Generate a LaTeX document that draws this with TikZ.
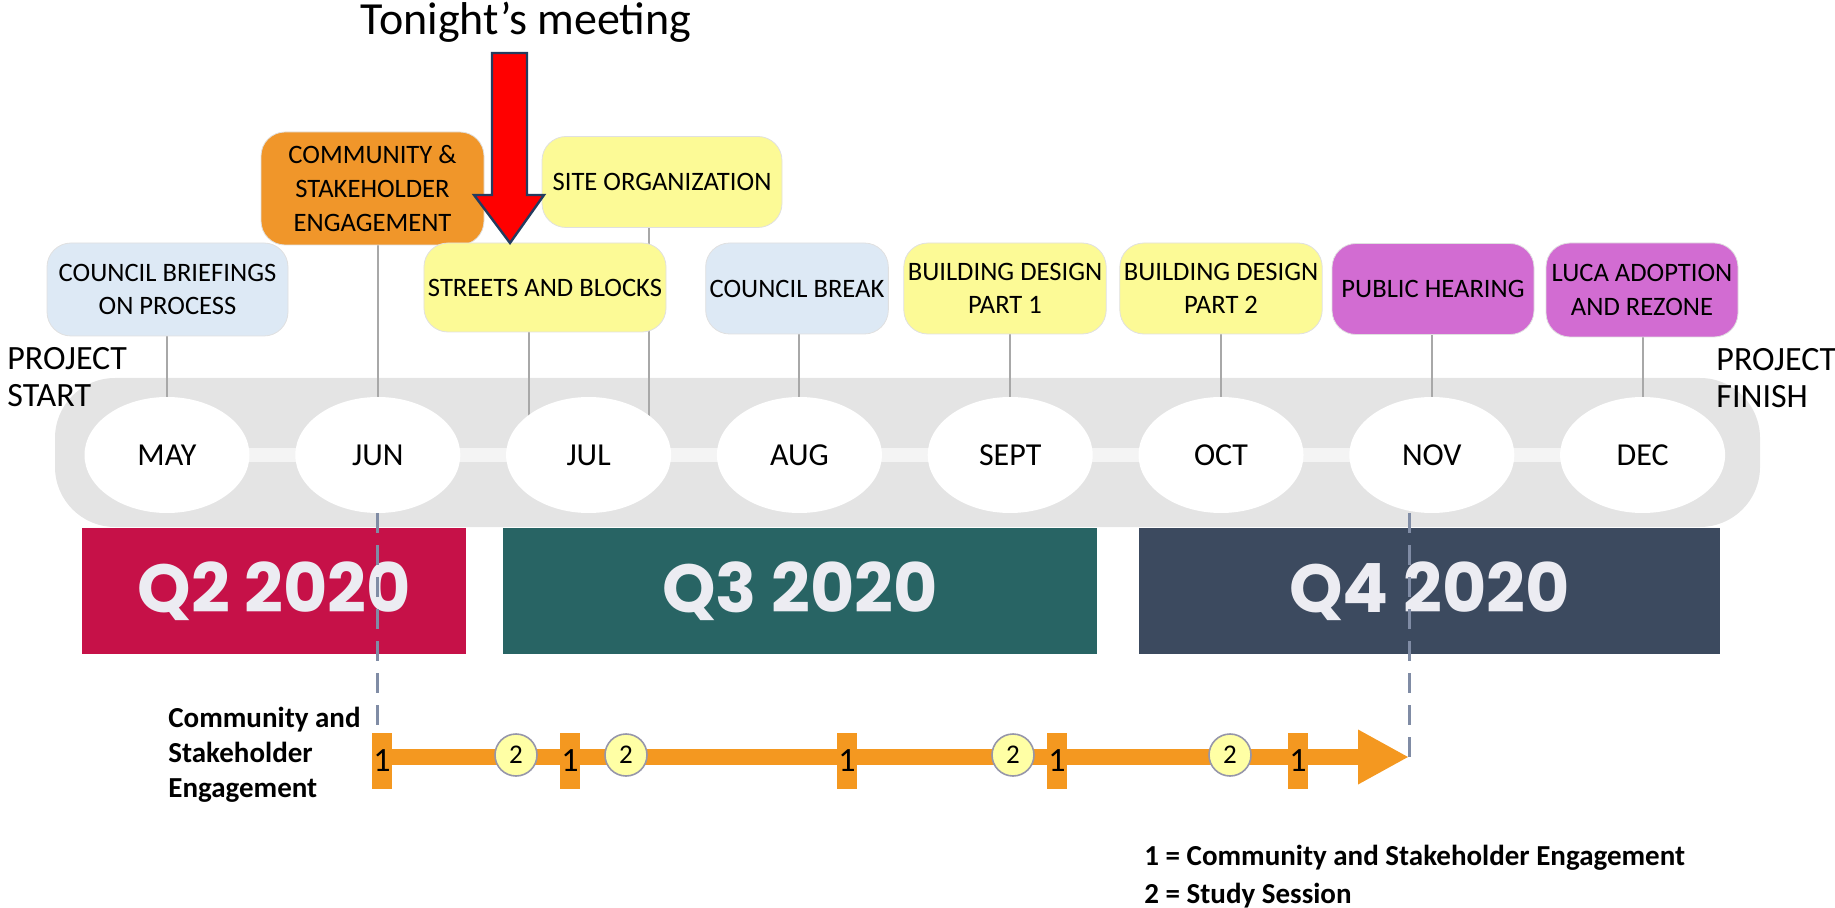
\documentclass[tikz,border=0pt]{standalone}
\usepackage{fontspec}
\setmainfont{Carlito}
\newfontfamily\quarterfont{Poppins}
\usetikzlibrary{shapes.geometric,arrows.meta,positioning,backgrounds}

\definecolor{bandgray}{RGB}{228,228,228}
\definecolor{stemgray}{RGB}{168,168,168}
\definecolor{paleblue}{RGB}{221,233,245}
\definecolor{paleyellow}{RGB}{252,250,150}
\definecolor{engorange}{RGB}{240,150,42}
\definecolor{orchid}{RGB}{210,108,210}
\definecolor{qred}{RGB}{198,17,72}
\definecolor{qteal}{RGB}{40,100,100}
\definecolor{qslate}{RGB}{60,74,95}
\definecolor{qtext}{RGB}{236,236,242}
\definecolor{trackorange}{RGB}{244,152,32}
\definecolor{dashblue}{RGB}{128,140,165}
\definecolor{arrowred}{RGB}{255,0,0}
\definecolor{arrowrim}{RGB}{35,60,95}
\definecolor{sessionyellow}{RGB}{255,255,165}
\definecolor{sessionrim}{RGB}{150,150,170}

\begin{document}
\begin{tikzpicture}[
  x=0.5pt, y=-0.5pt,
  node distance=22.5pt,
  event/.style={rectangle, rounded corners=12pt, draw=black!12,
    font=\fontsize{13.3}{16.8}\selectfont, align=center,
    minimum width=101pt, minimum height=45.5pt, inner sep=2pt},
  month/.style={ellipse, fill=white, minimum width=82.5pt,
    minimum height=58pt, font=\fontsize{16}{19}\selectfont},
  quarter/.style={rectangle, minimum height=63pt, text=qtext,
    font=\quarterfont\bfseries\fontsize{34}{40}\selectfont},
  stem/.style={draw=stemgray, line width=1pt},
  dashline/.style={draw=dashblue, line width=1.5pt,
    dash pattern=on 10pt off 6pt},
  track/.style={draw=trackorange, line width=8pt,
    -{Triangle[length=25.5pt, width=25.5pt]}},
  marker/.style={rectangle, fill=trackorange, minimum width=10pt,
    minimum height=28pt, inner sep=0pt,
    font=\fontsize{17}{20}\selectfont},
  session/.style={circle, fill=sessionyellow, draw=sessionrim,
    line width=0.8pt, minimum size=21pt, inner sep=0pt,
    font=\fontsize{13.5}{16}\selectfont},
  note/.style={font=\bfseries\fontsize{14.5}{17.5}\selectfont,
    align=left, inner sep=0pt},
  side/.style={font=\fontsize{17}{18.5}\selectfont, align=left,
    inner sep=0pt},
  pointer/.style={fill=arrowred, draw=arrowrim, line width=1.2pt}
]
  \useasboundingbox (0,0) rectangle (1835,908);

  % events above the timeline
  \node[event, fill=paleblue, minimum width=120.5pt, minimum height=46.5pt]
    (brief) at (167.5,289.5) {COUNCIL BRIEFINGS\\ON PROCESS};
  \node[event, fill=engorange, minimum width=111.5pt, minimum height=56.5pt]
    (engage) at (372.5,188.5) {COMMUNITY \&\\STAKEHOLDER\\ENGAGEMENT};
  \node[event, fill=paleyellow, minimum width=120pt, minimum height=44.5pt]
    (streets) at (545,287.5) {STREETS AND BLOCKS};
  \node[event, fill=paleyellow, minimum width=120pt]
    (siteorg) at (662,182) {SITE ORGANIZATION};
  \node[event, fill=paleblue, minimum width=89pt]
    (cbreak) at (797,288.5) {COUNCIL BREAK};
  \node[event, fill=paleyellow] (design1) at (1005,288.5)
    {BUILDING DESIGN\\PART 1};
  \node[event, fill=paleyellow] (design2) at (1221,288.5)
    {BUILDING DESIGN\\PART 2};
  \node[event, fill=orchid] (hearing) at (1433,289) {PUBLIC HEARING};
  \node[event, fill=orchid, minimum width=96pt, minimum height=47pt]
    (adopt) at (1642,290) {LUCA ADOPTION\\AND REZONE};

  % months
  \node[month] (may) at (167,455) {MAY};
  \node[month, right=of may] (jun) {JUN};
  \node[month, right=of jun] (jul) {JUL};
  \node[month, right=of jul] (aug) {AUG};
  \node[month, right=of aug] (sept) {SEPT};
  \node[month, right=of sept] (oct) {OCT};
  \node[month, right=of oct] (nov) {NOV};
  \node[month, right=of nov] (dec) {DEC};
  \coordinate (jula) at ([xshift=-30pt]jul.center);
  \coordinate (julb) at ([xshift=30pt]jul.center);

  \begin{scope}[on background layer]
    \fill[bandgray, rounded corners=30pt] (55,378) rectangle (1760,527);
    \draw[white, opacity=0.6, line width=7pt] (may.center) -- (dec.center);
    \draw[stem] (may.center) -- (may.center |- brief.south);
    \draw[stem] (jun.center) -- (jun.center |- engage.south);
    \draw[stem] (jula) -- (jula |- streets.south);
    \draw[stem] (julb) -- (julb |- siteorg.south);
    \draw[stem] (aug.center) -- (aug.center |- cbreak.south);
    \draw[stem] (sept.center) -- (sept.center |- design1.south);
    \draw[stem] (oct.center) -- (oct.center |- design2.south);
    \draw[stem] (nov.center) -- (nov.center |- hearing.south);
    \draw[stem] (dec.center) -- (dec.center |- adopt.south);
  \end{scope}

  \node[side, anchor=west] (pstart) at (7,377) {PROJECT\\START};
  \node[side, anchor=west] (pfinish) at (1716,378) {PROJECT\\FINISH};

  % quarters
  \node[quarter, fill=qred, minimum width=192pt] (q2) at (274,591)
    {Q2 2020};
  \node[quarter, fill=qteal, minimum width=297pt] (q3) at (800,591)
    {Q3 2020};
  \node[quarter, fill=qslate, minimum width=290.5pt] (q4) at (1429.5,591)
    {Q4 2020};

  % engagement track
  \coordinate (trackstart) at (381,757);
  \coordinate (trackend) at (1409,757);
  \draw[track] (trackstart) -- (trackend);
  \node[marker] (m1) at (382,761) {1};
  \node[marker] (m2) at (570,761) {1};
  \node[marker] (m3) at (847,761) {1};
  \node[marker] (m4) at (1057,761) {1};
  \node[marker] (m5) at (1298,761) {1};
  \node[session] (s1) at (516,755) {2};
  \node[session] (s2) at (626,755) {2};
  \node[session] (s3) at (1013,755) {2};
  \node[session] (s4) at (1230,755) {2};

  \draw[dashline] (jun.south) -- (jun.south |- m1.north);
  \draw[dashline] (nov.south -| trackend) -- (trackend);

  \node[note, anchor=west] (csetitle) at (168,755)
    {Community and\\Stakeholder\\Engagement};
  \node[note, anchor=west] (leg1) at (1144,858)
    {1 = Community and Stakeholder Engagement};
  \node[note, below=6pt of leg1.south west, anchor=north west] (leg2)
    {2 = Study Session};

  % tonight's meeting pointer
  \node[font=\fontsize{23}{28}\selectfont] (tonight) at (526,22)
    {Tonight's meeting};
  \draw[pointer] (492,53) -- (527,53) -- (527,195) -- (544,195)
    -- (510,243) -- (474,195) -- (492,195) -- cycle;
\end{tikzpicture}
\end{document}
